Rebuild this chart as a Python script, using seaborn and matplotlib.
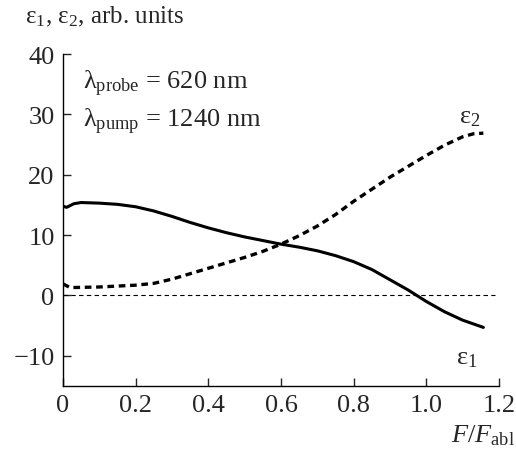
import numpy as np
import pandas as pd
import seaborn as sns
import matplotlib.pyplot as plt

# eps1 (solid) and eps2 (dashed)
x_eps1 = [0.0, 0.01, 0.03, 0.05, 0.10, 0.15, 0.20, 0.25, 0.30, 0.35, 0.40, 0.45,
          0.50, 0.55, 0.60, 0.65, 0.70, 0.75, 0.80, 0.85, 0.90, 0.95, 1.00,
          1.05, 1.10, 1.157]
eps1 = [14.8, 14.6, 15.2, 15.4, 15.3, 15.1, 14.7, 14.0, 13.1, 12.1, 11.2, 10.4,
        9.7, 9.1, 8.5, 8.0, 7.4, 6.6, 5.6, 4.3, 2.6, 0.9, -1.0,
        -2.7, -4.1, -5.3]

x_eps2 = [0.0, 0.02, 0.10, 0.20, 0.25, 0.30, 0.35, 0.40, 0.45, 0.50, 0.55,
          0.60, 0.65, 0.70, 0.75, 0.80, 0.85, 0.90, 0.95, 1.00, 1.05, 1.10,
          1.13, 1.157]
eps2 = [1.9, 1.3, 1.4, 1.7, 2.0, 2.7, 3.6, 4.5, 5.4, 6.3, 7.3, 8.5, 9.9,
        11.5, 13.4, 15.6, 17.6, 19.6, 21.4, 23.2, 24.9, 26.3, 26.8, 26.9]

x_ticks = [0, 0.2, 0.4, 0.6, 0.8, 1.0, 1.2]
x_tick_labels = ["0", "0.2", "0.4", "0.6", "0.8", "1.0", "1.2"]
y_ticks = [-10, 0, 10, 20, 30, 40]
y_tick_labels = ["\u221210", "0", "10", "20", "30", "40"]

sns.set_style("ticks")
plt.rcParams['font.family'] = ['Liberation Serif', 'DejaVu Serif']
plt.rcParams['mathtext.fontset'] = 'custom'
plt.rcParams['mathtext.rm'] = 'Liberation Serif'
plt.rcParams['mathtext.it'] = 'Liberation Serif:italic'

fs = 19
fig = plt.figure(figsize=(5.16, 4.52), dpi=100)
ax = fig.add_axes([0.122, 0.144, 0.845, 0.734])

df1 = pd.DataFrame({"x": x_eps1, "y": eps1})
df2 = pd.DataFrame({"x": x_eps2, "y": eps2})

ax.axhline(0, xmin=0, xmax=1.19 / 1.2, color="black", lw=0.8, ls=(0, (4, 3)))
sns.lineplot(data=df1, x="x", y="y", ax=ax, color="black", lw=2.2)
sns.lineplot(data=df2, x="x", y="y", ax=ax, color="black", lw=2.4)
ax.lines[-1].set_linestyle((0, (2.0, 1.4)))

ax.set_xlim(0, 1.2)
ax.set_ylim(-15, 40)
ax.set_xticks(x_ticks)
ax.set_xticklabels(x_tick_labels)
ax.set_yticks(y_ticks)
ax.set_yticklabels(y_tick_labels)
ax.tick_params(direction="in", length=6, width=1, labelsize=fs, pad=6)
ax.set_xlabel("")
ax.set_ylabel("")
sns.despine(ax=ax)
for s in ["left", "bottom"]:
    ax.spines[s].set_linewidth(1)
    ax.spines[s].set_color("black")

ax.text(0.055, 35.3, "\u03bb$_{\\rm probe}$ = 620 nm", fontsize=fs, va="center")
ax.text(0.055, 29.0, "\u03bb$_{\\rm pump}$ = 1240 nm", fontsize=fs, va="center")
ax.text(1.12, 29.6, "\u03b5$_2$", fontsize=fs, ha="center", va="center")
ax.text(1.11, -10.3, "\u03b5$_1$", fontsize=fs, ha="center", va="center")

fig.text(0.048, 0.962, "\u03b5$_1$, \u03b5$_2$, arb. units", fontsize=18,
         ha="left", va="center")
fig.text(0.997, 0.035, "$F/F_{\\rm abl}$", fontsize=fs, ha="right", va="center")

fig.savefig("out.png", dpi=100)
